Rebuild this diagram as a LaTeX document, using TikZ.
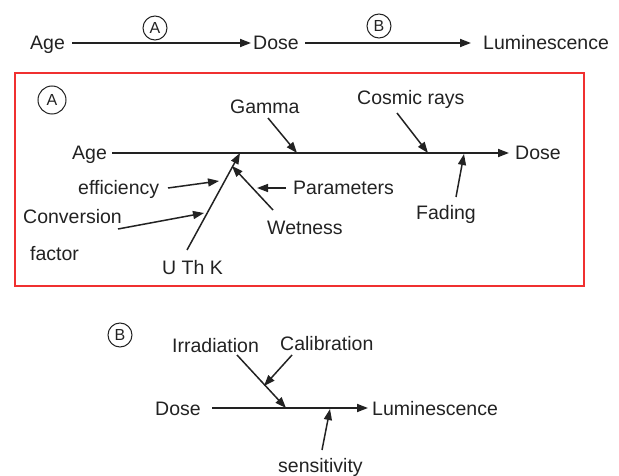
\documentclass[tikz,border=0pt]{standalone}
\usepackage{fontspec}
\setmainfont{Liberation Sans}
\usetikzlibrary{arrows.meta}
\definecolor{ink}{HTML}{222222}
\definecolor{boxred}{HTML}{F03030}
\tikzset{
  lab/.style={inner sep=0pt, text=ink, font=\fontsize{19.5}{22}\selectfont, anchor=base west},
  letter/.style={circle, draw=ink, line width=1pt, inner sep=0pt, text=ink, font=\fontsize{16}{18}\selectfont},
  arr/.style={draw=ink, line width=1.7pt, -{Triangle[length=11pt,width=8pt]}},
  thin arr/.style={draw=ink, line width=1.5pt, -{Triangle[length=11pt,width=8pt]}},
}
\begin{document}
\begin{tikzpicture}[x=1pt,y=-1pt]
\useasboundingbox (0,0) rectangle (619,476);
% ---------- top row
\node[lab] (age0) at (30,50) {Age};
\node[lab] (dose0) at (253,50) {Dose};
\node[lab] (lum0) at (483,50) {Luminescence};
\coordinate (a0s) at (72,43); \coordinate (a0e) at (251,43);
\coordinate (b0s) at (305,43); \coordinate (b0e) at (471,43);
\draw[arr] (a0s) -- (a0e);
\draw[arr] (b0s) -- (b0e);
\node[letter, minimum size=24pt] (cA0) at (155,28) {A};
\node[letter, minimum size=24pt] (cB0) at (379,26) {B};
% ---------- box A
\draw[boxred, line width=1.6pt] (15,73) rectangle (584,286);
\node[letter, minimum size=28pt] (cA) at (52,100) {A};
\node[lab] (age) at (72,160) {Age};
\node[lab] (dose) at (515,160) {Dose};
\coordinate (ls) at (112,153);
\coordinate (le) at (509,153);
\draw[arr] (ls) -- (le);
\node[lab] (gamma) at (230,114) {Gamma};
\node[lab] (cosmic) at (357,105) {Cosmic rays};
\node[lab] (fading) at (416,219) {Fading};
\node[lab] (params) at (293,195) {Parameters};
\node[lab] (wet) at (267,235) {Wetness};
\node[lab] (uthk) at (162,274) {U Th K};
\node[lab] (eff) at (78,195) {efficiency};
\node[lab] (conv) at (23,224) {Conversion};
\node[lab] (factor) at (30,260) {factor};
\coordinate (gs) at (268,118); \coordinate (ge) at (297,153);
\coordinate (cs) at (397,113); \coordinate (ce) at (428,153);
\coordinate (fs) at (456,197); \coordinate (fe) at (464,154);
\coordinate (us) at (187,250); \coordinate (ue) at (240,153);
\coordinate (ws) at (273,210); \coordinate (we) at (232,166);
\coordinate (ps) at (286,188); \coordinate (pe) at (257,188);
\coordinate (es) at (168,188); \coordinate (ee) at (219,181);
\coordinate (vs) at (118,229); \coordinate (ve) at (204,213);
\draw[thin arr] (gs) -- (ge);
\draw[thin arr] (cs) -- (ce);
\draw[thin arr] (fs) -- (fe);
\draw[thin arr] (us) -- (ue);
\draw[thin arr] (ws) -- (we);
\draw[thin arr] (ps) -- (pe);
\draw[thin arr] (es) -- (ee);
\draw[thin arr] (vs) -- (ve);
% ---------- B
\node[letter, minimum size=24pt] (cB) at (120,335) {B};
\node[lab] (irr) at (172,352) {Irradiation};
\node[lab] (cal) at (280,350) {Calibration};
\node[lab] (dose2) at (155,415) {Dose};
\node[lab] (lum2) at (372,415) {Luminescence};
\node[lab] (sens) at (278,472) {sensitivity};
\coordinate (ms) at (212,408); \coordinate (me) at (368,408);
\draw[arr] (ms) -- (me);
\coordinate (is) at (237,355); \coordinate (ie) at (286,408);
\coordinate (ks) at (292,355); \coordinate (ke) at (264,386);
\coordinate (ss) at (322,450); \coordinate (se) at (330,409);
\draw[thin arr] (is) -- (ie);
\draw[thin arr] (ks) -- (ke);
\draw[thin arr] (ss) -- (se);
\end{tikzpicture}
\end{document}
